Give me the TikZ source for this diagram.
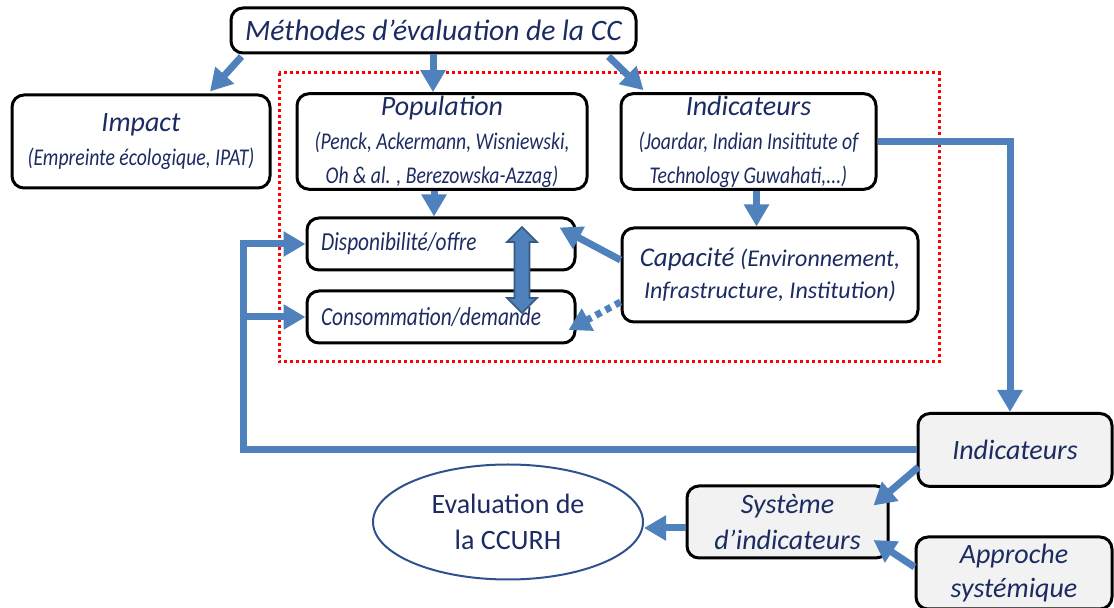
\documentclass[tikz,border=0pt]{standalone}
\usepackage{fontspec}
\setmainfont{Carlito}
\newfontfamily\condfont{Carlito}[FakeStretch=0.82]
\usetikzlibrary{arrows.meta,shapes.geometric}
\definecolor{inkblue}{RGB}{28,44,98}
\definecolor{arrowblue}{RGB}{79,129,189}
\definecolor{boxgray}{RGB}{242,242,242}
\definecolor{ellblue}{RGB}{47,82,143}
\newcommand{\hd}[1]{{\fontsize{14}{17}\selectfont #1}}
\newcommand{\refs}[1]{{\condfont\itshape\fontsize{12}{17}\selectfont #1}}

\begin{document}
\begin{tikzpicture}[x=0.5pt, y=-0.5pt,
  box/.style={draw=black, line width=1.5pt, rounded corners=6pt, fill=white,
    align=center, text=inkblue, inner sep=1pt, font=\itshape\fontsize{13}{17}\selectfont},
  graybox/.style={box, fill=boxgray},
  leftbox/.style={box, text width=120pt, align=left, inner xsep=7pt,
    minimum height=26pt, font=\condfont\itshape\fontsize{13}{16}\selectfont},
  flow/.style={arrowblue, line width=3.5pt, -{Triangle[width=12pt,length=11pt]}},
  dotflow/.style={flow, dash pattern=on 3pt off 2.5pt}]
\useasboundingbox (0,0) rectangle (1114,608);

% cadre pointille
\draw[red, line width=1.5pt, dash pattern=on 1.5pt off 1.5pt] (279,73) rectangle (939,362);

% methodes
\node[box, minimum width=202.5pt, minimum height=22.5pt, font=\itshape\fontsize{14.8}{17}\selectfont]
  (title) at (433.5,30.5) {Méthodes d’évaluation de la CC};
\node[box, minimum width=129pt, minimum height=46.5pt] (impact) at (141,141.5)
  {\hd{Impact}\\\refs{(Empreinte écologique, IPAT)}};
\node[box, minimum width=145pt, minimum height=46.5pt] (pop) at (442,141.5)
  {\hd{Population}\\\refs{(Penck, Ackermann, Wisniewski,}\\\refs{Oh \& al. , Berezowska-Azzag)}};
\node[box, minimum width=127.5pt, minimum height=46.5pt] (ind1) at (748.5,141.5)
  {\hd{Indicateurs}\\\refs{(Joardar, Indian Insititute of}\\\refs{Technology Guwahati,...)}};

% offre / demande
\node[leftbox] (dispo) at (441,244) {Disponibilité/offre};
\node[leftbox] (conso) at (441,317) {Consommation/demande};
\node[box, minimum width=148pt, minimum height=47pt, font=\itshape\fontsize{12}{16}\selectfont]
  (capa) at (770,275) {{\fontsize{13.5}{16}\selectfont Capacité} (Environnement,\\Infrastructure, Institution)};

% partie basse
\node[graybox, minimum width=97pt, minimum height=36.5pt, font=\itshape\fontsize{14}{18}\selectfont]
  (ind2) at (1015,450) {Indicateurs};
\node[graybox, minimum width=100.5pt, minimum height=36pt, font=\itshape\fontsize{14}{18}\selectfont]
  (syst) at (787.5,522) {Système\\d’indicateurs};
\node[graybox, minimum width=98pt, minimum height=36pt, font=\itshape\fontsize{14}{17}\selectfont]
  (appr) at (1014,573) {Approche\\systémique};
\node[ellipse, draw=ellblue, line width=1pt, fill=white, minimum width=135pt, minimum height=57.5pt,
  align=center, text=inkblue, font=\fontsize{14}{18}\selectfont] (eval) at (508,522) {Evaluation de\\la CCURH};

\coordinate (fb) at (243,450);

% fleches
\draw[flow] ([shift={(12,2)}]title.south west) -- ([shift={(69,-2)}]impact.north);
\draw[flow] ([xshift=-0.25pt]title.south) -- ([xshift=-0.25pt]title.south |- pop.north);
\draw[flow] ([shift={(-29,2)}]title.south east) -- ([shift={(24,-2)}]ind1.north west);
\draw[flow] ([xshift=-4pt]pop.south) -- ([xshift=-4pt]pop.south |- dispo.north);
\draw[flow] ([xshift=4pt]ind1.south) -- ([xshift=4pt]ind1.south |- capa.north);
\draw[flow] ([yshift=7.5pt]capa.west) -- ([shift={(-17,11)}]dispo.north east);
\draw[dotflow] ([yshift=-13.5pt]capa.west) -- ([shift={(-8,13)}]conso.east);
\draw[flow] (ind1.east) -| ([xshift=-2.5pt]ind2.north);
\draw[flow] (ind2.west) -- (fb) |- (dispo.west);
\draw[flow] (fb |- conso.west) -- (conso.west);
\draw[flow] ([shift={(2,17)}]ind2.west) -- ([shift={(-16,21)}]syst.north east);
\draw[flow] ([yshift=3pt]appr.west) -- ([shift={(-16,18)}]syst.east);
\draw[flow] ([yshift=-3pt]syst.west) -- ([yshift=-3pt]eval.east);

% double fleche
\filldraw[fill=arrowblue, draw=arrowblue!70!black, line width=0.8pt]
  (522,227) -- (537,242) -- (529.5,242) -- (529.5,298) -- (537,298) -- (522,313)
  -- (507,298) -- (514.5,298) -- (514.5,242) -- (507,242) -- cycle;
\end{tikzpicture}
\end{document}
